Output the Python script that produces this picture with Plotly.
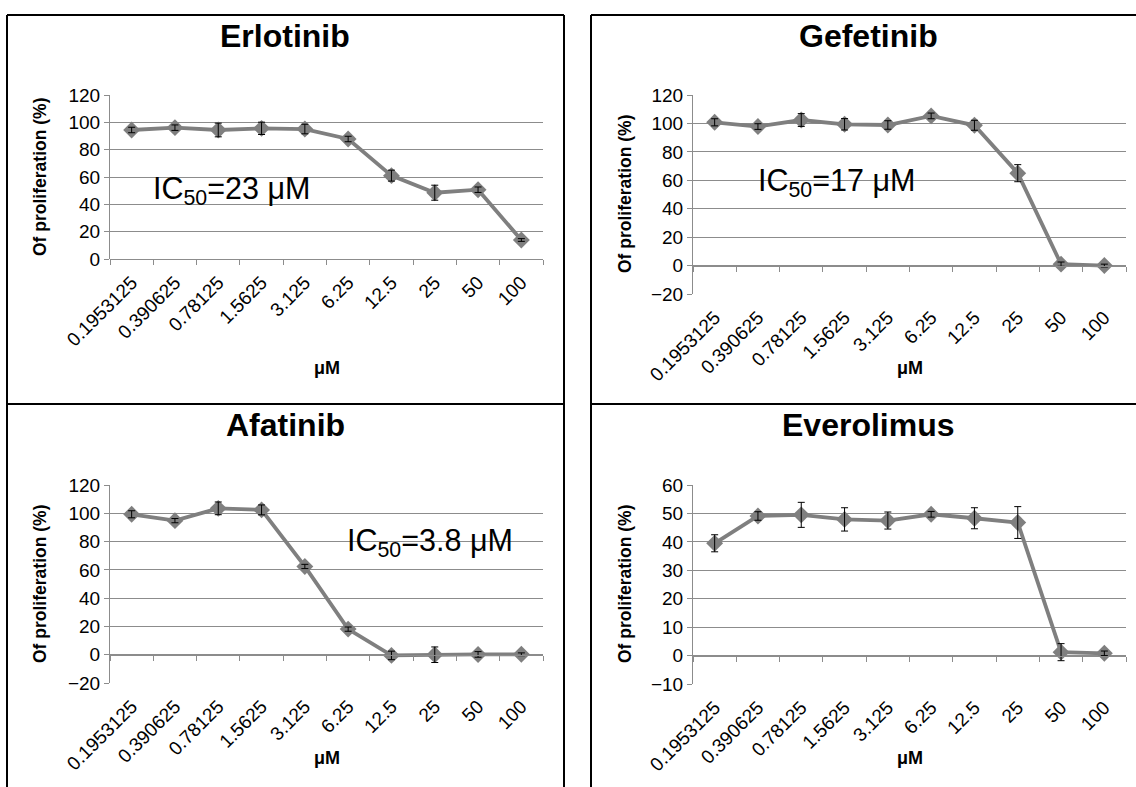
import plotly.graph_objects as go

# Drug concentrations (µM) shared by all four panels
conc_labels = ["0.1953125", "0.390625", "0.78125", "1.5625", "3.125",
               "6.25", "12.5", "25", "50", "100"]

# Proliferation (%) means and error bars per drug
erlotinib = [94.4, 96.1, 94.4, 95.6, 95.1, 87.8, 61.0, 48.5, 50.7, 13.9]
erlotinib_err = [2, 2, 5, 4.5, 3.5, 2, 4, 5.5, 2, 1]

gefetinib = [100.8, 97.8, 102.4, 99.4, 98.9, 105.3, 98.7, 65.0, 1.0, 0.0]
gefetinib_err = [2.5, 2, 4.5, 4, 3, 2, 3.5, 6, 1.5, 1]

afatinib = [99.3, 94.8, 103.5, 102.4, 62.4, 18.1, -0.5, 0.0, 0.2, 0.3]
afatinib_err = [2.5, 1.5, 4.5, 3.5, 1.5, 1.5, 3, 5.5, 2, 1]

everolimus = [39.5, 49.1, 49.5, 47.9, 47.5, 49.7, 48.3, 46.8, 1.2, 0.8]
everolimus_err = [3, 1.5, 4.4, 4.1, 3, 1, 3.7, 5.6, 3, 0.8]

ic50_labels = ["IC<sub>50</sub>=23 μM", "IC<sub>50</sub>=17 μM", "IC<sub>50</sub>=3.8 μM", None]

W, H = 1136, 787
FONT = "Liberation Sans, Arial, sans-serif"
LINE = "#7f7f7f"
GRID = "#8c8c8c"
TICK_SIZE = 19


def fx(px):
    return px / W


def fy(py):
    return 1 - py / H


panels = [
    dict(name="Erlotinib", y=erlotinib, e=erlotinib_err, rng=(0, 120), dt=20,
         px=(110, 543), py=(95, 259), ic=ic50_labels[0], icpos=(231, 190),
         tpos=(285, 36), ytpos=(40, 177), xtpos=(327, 368)),
    dict(name="Gefetinib", y=gefetinib, e=gefetinib_err, rng=(-20, 120), dt=20,
         px=(693, 1126), py=(95, 294), ic=ic50_labels[1], icpos=(836, 182),
         tpos=(868, 36), ytpos=(625, 194), xtpos=(910, 368)),
    dict(name="Afatinib", y=afatinib, e=afatinib_err, rng=(-20, 120), dt=20,
         px=(110, 543), py=(485, 683), ic=ic50_labels[2], icpos=(430, 542),
         tpos=(285, 425), ytpos=(40, 584), xtpos=(327, 758)),
    dict(name="Everolimus", y=everolimus, e=everolimus_err, rng=(-10, 60), dt=10,
         px=(693, 1126), py=(485, 684), ic=ic50_labels[3], icpos=None,
         tpos=(868, 425), ytpos=(625, 584), xtpos=(910, 758)),
]

fig = go.Figure()
layout = dict(
    width=W, height=H, autosize=False,
    margin=dict(l=0, r=0, t=0, b=0, pad=0),
    paper_bgcolor="white", plot_bgcolor="white",
    showlegend=False,
    font=dict(family=FONT, color="black"),
)
annotations = []
shapes = []
xpos = list(range(len(conc_labels)))

for i, p in enumerate(panels):
    k = i + 1
    xa = "x" if k == 1 else f"x{k}"
    ya = "y" if k == 1 else f"y{k}"
    over = k + 4
    ymin, ymax = p["rng"]
    ydom = [fy(p["py"][1]), fy(p["py"][0])]
    xdom = [fx(p["px"][0]), fx(p["px"][1])]

    # connecting line with diamond markers
    fig.add_trace(go.Scatter(
        x=xpos, y=p["y"], mode="lines+markers", xaxis=xa, yaxis=ya,
        line=dict(color=LINE, width=3.8),
        marker=dict(symbol="diamond", size=13, color=LINE),
        hoverinfo="skip"))
    # error bars drawn on top of the markers
    fig.add_trace(go.Scatter(
        x=xpos, y=p["y"], mode="markers", xaxis=xa, yaxis=ya,
        marker=dict(size=1, color="rgba(0,0,0,0)"),
        error_y=dict(type="data", array=p["e"], visible=True,
                     color="black", thickness=1, width=3.5),
        hoverinfo="skip"))

    xkey = "xaxis" if k == 1 else f"xaxis{k}"
    ykey = "yaxis" if k == 1 else f"yaxis{k}"
    layout[xkey] = dict(
        domain=xdom, anchor=ya, range=[-0.5, len(conc_labels) - 0.5],
        tickmode="array", tickvals=xpos, ticktext=conc_labels,
        tickangle=-45, tickfont=dict(size=TICK_SIZE, family=FONT, color="black"),
        showgrid=False, zeroline=False, showline=False,
        ticks="outside", ticklen=4, tickcolor="rgba(0,0,0,0)",
        automargin=False)
    layout[ykey] = dict(
        domain=ydom, anchor=xa, range=[ymin, ymax], dtick=p["dt"],
        tick0=ymin, showgrid=True, gridcolor=GRID, gridwidth=1,
        zeroline=False, showline=True, linecolor=GRID, linewidth=1,
        ticks="outside", ticklen=5, tickcolor=GRID,
        tickfont=dict(size=TICK_SIZE, family=FONT, color="black"),
        automargin=False)

    # category axis crossing at y = 0, ticks between categories
    zero_frac = ydom[0] + (0 - ymin) / (ymax - ymin) * (ydom[1] - ydom[0])
    bounds = [v - 0.5 for v in xpos] + [xpos[-1] + 0.5]
    layout[f"xaxis{over}"] = dict(
        overlaying=xa, anchor="free", position=zero_frac,
        range=[-0.5, len(conc_labels) - 0.5], tickmode="array",
        tickvals=bounds, showticklabels=False, ticks="outside", ticklen=5,
        tickcolor=GRID, showline=True, linecolor=GRID, linewidth=1,
        showgrid=False, zeroline=False, side="bottom", automargin=False)
    fig.add_trace(go.Scatter(x=[None], y=[None], xaxis=f"x{over}", yaxis=ya,
                             mode="markers", hoverinfo="skip"))

    # panel title, axis titles, IC50 note
    annotations.append(dict(
        text=f"<b>{p['name']}</b>", x=fx(p["tpos"][0]), y=fy(p["tpos"][1]),
        xref="paper", yref="paper", showarrow=False, xanchor="center",
        yanchor="middle", font=dict(size=32, family=FONT, color="black")))
    annotations.append(dict(
        text="<b>Of proliferation (%)</b>", x=fx(p["ytpos"][0]),
        y=fy(p["ytpos"][1]), xref="paper", yref="paper", showarrow=False,
        textangle=-90, xanchor="center", yanchor="middle",
        font=dict(size=17.5, family=FONT, color="black")))
    annotations.append(dict(
        text="<b>μM</b>", x=fx(p["xtpos"][0]), y=fy(p["xtpos"][1]),
        xref="paper", yref="paper", showarrow=False, xanchor="center",
        yanchor="middle", font=dict(size=18, family=FONT, color="black")))
    if p["ic"]:
        annotations.append(dict(
            text=p["ic"], x=fx(p["icpos"][0]), y=fy(p["icpos"][1]),
            xref="paper", yref="paper", showarrow=False, xanchor="center",
            yanchor="middle", font=dict(size=30.5, family=FONT, color="black")))

# panel frames
frame = dict(type="line", xref="paper", yref="paper",
             line=dict(color="black", width=2))
for ypx in (15, 404):
    shapes.append(dict(frame, x0=fx(7), x1=fx(564), y0=fy(ypx), y1=fy(ypx)))
    shapes.append(dict(frame, x0=fx(591), x1=1.0, y0=fy(ypx), y1=fy(ypx)))
for xpx in (7, 564, 591):
    shapes.append(dict(frame, x0=fx(xpx), x1=fx(xpx), y0=fy(15), y1=0.0))

layout["annotations"] = annotations
layout["shapes"] = shapes
fig.update_layout(**layout)
fig.write_html("out.html")
